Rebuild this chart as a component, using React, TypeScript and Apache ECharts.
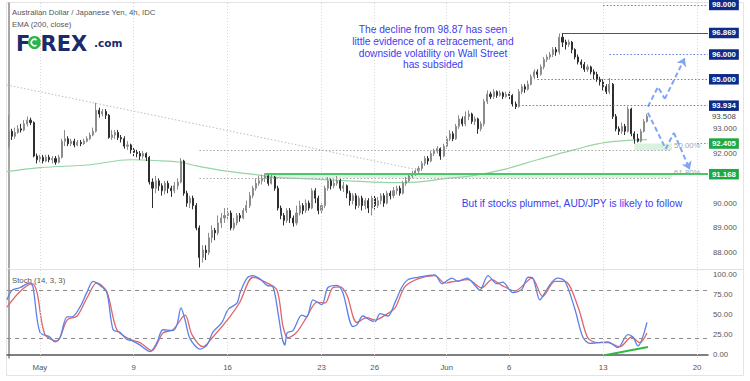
import React, { useEffect, useRef } from 'react';
import * as echarts from 'echarts';

// ---------- DATA ----------
const TOTAL_SLOTS = 224;
const xTickLabels: [number, string][] = [
  [10, 'May'], [40, '9'], [70, '16'], [100, '23'], [117, '26'],
  [140, 'Jun'], [160, '6'], [190, '13'], [220, '20'],
];
const priceTickLabels = [88, 89, 90, 92, 93];
const stochTickLabels = [0, 25, 50, 75, 100];

// 4h candles: [open, close, low, high]
const candlesApr: number[][] = [
  [92.3, 92.9, 92.2, 93.55], [92.9, 92.7, 92.55, 93.0], [92.7, 92.85, 92.6, 93.05], [92.85, 93.0, 92.8, 93.15],
  [93.0, 92.95, 92.85, 93.2], [92.95, 93.2, 92.9, 93.35], [93.2, 93.35, 93.1, 93.5], [93.35, 93.25, 93.15, 93.45],
  [93.25, 91.9, 91.85, 93.3], [91.9, 91.75, 91.6, 92.0],
];
const candlesWk1: number[][] = [
  [91.75, 91.85, 91.65, 91.95], [91.85, 91.7, 91.6, 91.95], [91.7, 91.85, 91.65, 91.95], [91.85, 91.75, 91.65, 91.95],
  [91.75, 91.8, 91.6, 91.9], [91.8, 91.65, 91.55, 91.9], [91.65, 91.85, 91.6, 91.95], [91.85, 92.5, 91.8, 92.6],
  [92.5, 92.6, 92.3, 92.95], [92.6, 92.4, 92.3, 92.7], [92.4, 92.5, 92.3, 92.6], [92.5, 92.35, 92.25, 92.6],
  [92.35, 92.45, 92.3, 92.55], [92.45, 92.4, 92.3, 92.55], [92.4, 92.5, 92.35, 92.6], [92.5, 92.6, 92.45, 92.7],
  [92.6, 92.75, 92.55, 92.85], [92.75, 92.9, 92.7, 93.05], [92.9, 93.75, 92.85, 94.05], [93.75, 93.6, 93.45, 93.85],
  [93.6, 93.7, 93.5, 93.8], [93.7, 93.55, 93.4, 93.8], [93.55, 92.65, 92.6, 93.6], [92.65, 92.75, 92.55, 92.95],
  [92.75, 92.85, 92.6, 92.95], [92.85, 92.65, 92.55, 92.95], [92.65, 92.6, 92.45, 92.75], [92.6, 92.3, 92.2, 92.7],
  [92.3, 92.35, 92.15, 92.5], [92.35, 92.15, 92.0, 92.4],
];
const candlesWk2: number[][] = [
  [92.15, 92.05, 91.9, 92.25], [92.05, 92.0, 91.85, 92.15], [92.0, 91.9, 91.75, 92.1], [91.9, 92.0, 91.8, 92.1],
  [92.0, 91.85, 91.7, 92.05], [91.85, 90.85, 90.75, 91.9], [90.85, 90.6, 89.8, 91.0], [90.6, 90.9, 90.4, 91.1],
  [90.9, 90.7, 90.5, 91.0], [90.7, 90.5, 90.3, 90.8], [90.5, 90.8, 90.35, 90.9], [90.8, 90.6, 90.4, 90.9],
  [90.6, 90.5, 90.25, 90.7], [90.5, 90.7, 90.4, 90.85], [90.7, 90.85, 90.55, 91.0], [90.85, 91.7, 90.8, 91.82],
  [91.7, 90.4, 90.3, 91.75], [90.4, 90.0, 89.85, 90.5], [90.0, 90.2, 89.8, 90.3], [90.2, 89.9, 89.75, 90.3],
  [89.9, 89.0, 88.9, 90.0], [89.0, 87.8, 87.4, 89.1], [87.8, 88.1, 87.6, 88.3], [88.1, 88.0, 87.7, 88.3],
  [88.0, 88.6, 87.9, 88.8], [88.6, 88.9, 88.4, 89.1], [88.9, 88.8, 88.5, 89.0], [88.8, 89.2, 88.7, 89.5],
  [89.2, 89.4, 89.0, 89.6], [89.4, 89.5, 89.2, 89.8],
];
const candlesWk3: number[][] = [
  [89.5, 89.6, 89.3, 89.8], [89.6, 89.0, 88.9, 89.7], [89.0, 89.2, 88.9, 89.4], [89.2, 89.5, 89.1, 89.6],
  [89.5, 89.4, 89.25, 89.6], [89.4, 89.7, 89.35, 89.8], [89.7, 89.9, 89.6, 90.1], [89.9, 90.3, 89.8, 90.45],
  [90.3, 90.6, 90.2, 90.7], [90.6, 90.8, 90.5, 91.0], [90.8, 90.9, 90.7, 91.1], [90.9, 91.0, 90.75, 91.15],
  [91.0, 91.1, 90.85, 91.2], [91.1, 90.8, 90.7, 91.15], [90.8, 91.05, 90.75, 91.2], [91.05, 90.6, 90.5, 91.1],
  [90.6, 89.8, 89.7, 90.7], [89.8, 89.5, 89.35, 89.9], [89.5, 89.3, 89.1, 89.6], [89.3, 89.7, 89.2, 89.8],
  [89.7, 89.4, 89.2, 89.8], [89.4, 89.2, 89.05, 89.5], [89.2, 89.6, 89.1, 89.9], [89.6, 89.9, 89.5, 90.1],
  [89.9, 89.7, 89.55, 90.0], [89.7, 90.0, 89.6, 90.15], [90.0, 89.8, 89.7, 90.1], [89.8, 90.5, 89.75, 90.6],
  [90.5, 90.2, 90.0, 90.6], [90.2, 89.7, 89.55, 90.3],
];
const candlesWk4: number[][] = [
  [89.7, 89.9, 89.6, 90.0], [89.9, 90.6, 89.8, 90.7], [90.6, 90.9, 90.5, 91.05], [90.9, 90.7, 90.55, 91.0],
  [90.7, 90.8, 90.6, 90.95], [90.8, 90.9, 90.7, 91.1], [90.9, 90.6, 90.5, 91.0], [90.6, 90.7, 90.45, 90.85],
  [90.7, 90.4, 90.2, 90.75], [90.4, 90.1, 89.9, 90.5], [90.1, 90.3, 89.95, 90.4], [90.3, 89.9, 89.75, 90.4],
  [89.9, 90.2, 89.8, 90.3], [90.2, 89.9, 89.7, 90.3], [89.9, 90.1, 89.75, 90.2], [90.1, 89.8, 89.6, 90.2],
  [89.8, 90.2, 89.5, 90.3], [90.2, 89.9, 89.75, 90.3], [89.9, 90.1, 89.8, 90.25], [90.1, 90.3, 89.95, 90.4],
  [90.3, 90.0, 89.85, 90.4], [90.0, 90.4, 89.95, 90.5], [90.4, 90.3, 90.15, 90.5], [90.3, 90.5, 90.2, 90.65],
  [90.5, 90.6, 90.35, 90.7], [90.6, 90.4, 90.3, 90.7], [90.4, 90.8, 90.35, 90.9], [90.8, 90.9, 90.7, 91.05],
  [90.9, 91.1, 90.85, 91.2], [91.1, 91.2, 91.0, 91.3],
];
const candlesWk5: number[][] = [
  [91.2, 91.3, 91.1, 91.4], [91.3, 91.4, 91.2, 91.5], [91.4, 91.6, 91.3, 91.7], [91.6, 91.8, 91.5, 91.9],
  [91.8, 91.7, 91.55, 91.9], [91.7, 92.0, 91.65, 92.1], [92.0, 92.1, 91.9, 92.2], [92.1, 92.2, 92.0, 92.3],
  [92.2, 91.9, 91.75, 92.25], [91.9, 92.3, 91.85, 92.4], [92.3, 92.6, 92.2, 92.7], [92.6, 92.8, 92.5, 92.95],
  [92.8, 92.6, 92.5, 92.9], [92.6, 93.1, 92.55, 93.2], [93.1, 93.4, 93.0, 93.55], [93.4, 93.2, 93.1, 93.5],
  [93.2, 93.5, 93.1, 93.7], [93.5, 93.6, 93.35, 93.75], [93.6, 93.3, 93.2, 93.65], [93.3, 93.4, 93.15, 93.5],
  [93.4, 93.0, 92.8, 93.45], [93.0, 93.2, 92.9, 93.3], [93.2, 94.1, 93.1, 94.2], [94.1, 94.4, 94.0, 94.55],
  [94.4, 94.3, 94.2, 94.5], [94.3, 94.5, 94.2, 94.6], [94.5, 94.35, 94.25, 94.55], [94.35, 94.45, 94.3, 94.55],
  [94.45, 94.3, 94.2, 94.5], [94.3, 94.4, 94.25, 94.5],
];
const candlesWk6: number[][] = [
  [94.4, 94.35, 94.2, 94.5], [94.35, 94.0, 93.9, 94.4], [94.0, 93.9, 93.8, 94.1], [93.9, 94.5, 93.85, 94.6],
  [94.5, 94.7, 94.4, 94.8], [94.7, 94.6, 94.45, 94.8], [94.6, 94.8, 94.55, 94.95], [94.8, 95.1, 94.75, 95.2],
  [95.1, 95.3, 95.0, 95.4], [95.3, 95.2, 95.05, 95.4], [95.2, 95.5, 95.15, 95.6], [95.5, 95.8, 95.4, 95.9],
  [95.8, 95.9, 95.7, 96.0], [95.9, 96.0, 95.8, 96.1], [96.0, 96.2, 95.9, 96.3], [96.2, 96.1, 95.95, 96.3],
  [96.1, 96.7, 96.0, 96.85], [96.7, 96.5, 96.3, 96.87], [96.5, 96.4, 96.2, 96.6], [96.4, 96.5, 96.3, 96.6],
  [96.5, 96.2, 96.05, 96.55], [96.2, 95.9, 95.8, 96.25], [95.9, 95.7, 95.6, 96.0], [95.7, 95.6, 95.45, 95.8],
  [95.6, 95.4, 95.3, 95.7], [95.4, 95.5, 95.3, 95.6], [95.5, 95.3, 95.2, 95.55], [95.3, 95.2, 95.0, 95.4],
  [95.2, 95.0, 94.9, 95.3], [95.0, 94.9, 94.75, 95.1],
];
const candlesWk7: number[][] = [
  [94.9, 94.7, 94.55, 95.0], [94.7, 94.5, 94.4, 94.8], [94.5, 94.8, 94.4, 95.05], [94.8, 93.5, 93.4, 94.85],
  [93.5, 93.0, 92.9, 93.6], [93.0, 92.9, 92.75, 93.1], [92.9, 93.1, 92.8, 93.25], [93.1, 92.9, 92.75, 93.2],
  [92.9, 93.8, 92.85, 93.9], [93.8, 92.8, 92.7, 93.85], [92.8, 92.6, 92.4, 92.9], [92.6, 92.5, 92.45, 92.8],
  [92.5, 92.9, 92.45, 93.0], [92.9, 93.3, 92.85, 93.4], [93.3, 93.508, 93.25, 93.6],
];

// EMA(200) read at key bars: [bar index, value]
const emaPoints: number[][] = [
  [-0.5, 91.27], [10, 91.43], [26, 91.55], [39, 91.75], [47, 91.72], [55, 91.65], [60, 91.5], [69, 91.3],
  [79, 91.15], [85, 91.04], [96, 90.98], [109, 90.9], [124, 90.83], [129, 90.84], [139, 90.98], [149, 91.12],
  [158, 91.35], [169, 91.75], [180, 92.13], [191, 92.45], [204, 92.56],
];

// Stochastic (14,3,3): [bar index, value]
const stochK: number[][] = [
  [-0.5, 68], [1.1, 80], [3.6, 83], [6.8, 89], [7.8, 84], [10, 28], [13.2, 22], [14.8, 16], [16.4, 21], [18.7, 47],
  [20.3, 47], [22.8, 59], [25, 77], [27, 91], [29.2, 86], [31.4, 77], [33.4, 31], [35.6, 28], [37.8, 19], [39.7, 17],
  [42, 12], [45.2, 4], [47.4, 15], [49.3, 31], [52.5, 30], [53.8, 37], [55.1, 58], [56.4, 43], [58, 20], [61.2, 7],
  [63.4, 12], [65.3, 28], [68.2, 40], [70.1, 56], [73, 64], [74, 77], [76.2, 95], [78.1, 98], [80.3, 94], [82.6, 86],
  [84.5, 84], [86.1, 52], [87.4, 21], [88.3, 12], [89, 27], [90.9, 30], [93.7, 49], [95.3, 47], [97.3, 68], [100.1, 62],
  [102, 83], [104.9, 86], [106.8, 77], [110, 35], [111.3, 37], [113.2, 48], [115.5, 43], [117.1, 41], [118.7, 51], [121.2, 48],
  [123.4, 64], [125.7, 84], [127.6, 93], [130.8, 96], [134, 98], [136.2, 99], [138.5, 88], [141.7, 95], [143.6, 91], [146.5, 95],
  [149, 86], [150.6, 80], [153.2, 98], [156, 88], [157.9, 90], [161.2, 77], [164, 81], [166, 96], [167.5, 95], [169.8, 68],
  [171.4, 77], [173.6, 90], [175.5, 95], [177.8, 91], [181, 56], [183.5, 22], [185.8, 14], [188.3, 15], [191.5, 16], [194.7, 9],
  [197.9, 25], [199.5, 22], [201.1, 11], [204, 40],
];
const stochD: number[][] = [
  [-0.5, 59], [3.6, 78], [7.5, 88], [9.1, 77], [11.6, 25], [15.5, 17], [18.7, 43], [21.9, 48], [25, 70], [28.2, 89],
  [31.4, 78], [34.6, 31], [38.8, 19], [42, 15], [45.8, 5], [49.3, 27], [52.5, 31], [56.4, 49], [58.6, 25], [62.1, 10],
  [65.3, 22], [70.7, 47], [73.9, 65], [78.1, 96], [82.6, 89], [85.8, 80], [87.7, 35], [89.3, 21], [92.1, 28], [95.3, 47],
  [98.5, 65], [101.1, 64], [103.6, 83], [105.9, 84], [108.1, 74], [111.3, 40], [114.5, 46], [117.1, 43], [120.3, 49], [123.5, 58],
  [126.6, 84], [130.8, 94], [136.2, 98], [139.4, 89], [142.6, 91], [146.8, 93], [151.2, 83], [154.4, 93], [157.6, 86], [161.8, 79],
  [167.2, 95], [170.7, 72], [174.6, 91], [177.8, 91], [182, 59], [185.1, 21], [188.3, 15], [191.5, 15], [195.3, 10], [199.1, 22],
  [201.7, 15], [204, 27],
];

// Annotations: [bar index, price]
const upPath: number[][] = [[204.3, 93.89], [207.5, 94.69], [209.7, 94.21], [216.1, 95.86]];
const downPath: number[][] = [[204.3, 93.65], [210, 92.19], [212.6, 92.84], [217.7, 91.35]];
const stochDivergence: number[][] = [[190.5, -0.5], [204.3, 9.5]];
const trendLine: number[][] = [[-0.5, 94.77], [132, 91.31]];
const fibLow = 87.4;
const fibHigh = 96.869;
const fibLevels: [number, string][] = [[0.5, '50.00%'], [0.618, '61.80%']];
const blueLevels: [number, number, string][] = [
  // price, start bar, line kind
  [98.0, 190, 'dotted'], [96.869, 177, 'solid'], [96.0, 192, 'dotted'], [95.0, 169, 'dotted'], [93.934, 163, 'dotted'],
];
const greenLevels: [number, number][] = [[92.405, 220], [91.168, 82]];
const lastPrice = 93.508;

// ---------- COMPONENT ----------
export default function App() {
  const ref = useRef<HTMLDivElement>(null);
  useEffect(() => {
    if (!ref.current) return;
    const chart = echarts.init(ref.current, null, { renderer: 'svg' });
    const ohlc = [...candlesApr, ...candlesWk1, ...candlesWk2, ...candlesWk3, ...candlesWk4, ...candlesWk5, ...candlesWk6, ...candlesWk7];
    const cats: string[] = [];
    for (let i = 0; i < TOTAL_SLOTS; i++) cats.push('');
    xTickLabels.forEach(([i, t]) => { cats[i] = t; });
    const fib = fibLevels.map(([r, t]) => [fibHigh - r * (fibHigh - fibLow), t] as [number, string]);
    const END = TOTAL_SLOTS - 0.5;
    const small = 7.8;
    const gridV = (color: string) => xTickLabels.map(([i]) => ({ xAxis: i, lineStyle: { type: [1, 2], color, width: 1 }, label: { show: false } }));
    const box = (txt: string, bg: string) => ({
      show: true, position: 'end', distance: 1, formatter: txt, backgroundColor: bg, color: '#fff',
      fontWeight: 'bold', fontSize: small, padding: [1.5, 3, 1, 3],
    });
    const blueMarks = blueLevels.map(([p, s, kind]) => [
      {
        coord: [s, p],
        lineStyle: kind === 'solid' ? { type: 'solid', color: '#3553b0', width: 1 } : { type: [1.5, 2], color: '#5d7fdc', width: 1.2 },
        label: box(p.toFixed(3), '#0f2b88'),
      },
      { coord: [END, p] },
    ]);
    const greenMarks = greenLevels.map(([p, s]) => [
      {
        coord: [s, p],
        lineStyle: p > 92 ? { type: [1.5, 2], color: '#3dbb5c', width: 1 } : { type: 'solid', color: '#4cc66a', width: 2 },
        label: box(p.toFixed(3), '#1fa843'),
      },
      { coord: [END, p] },
    ]);
    const fibMarks = fib.map(([p]) => [
      { coord: [61, p], lineStyle: { type: [1.5, 2], color: '#a9a9a9', width: 1 }, label: { show: false } },
      { coord: [212, p] },
    ]);
    const arrowColor = '#7ea6f4';
    const arrowLine = { color: arrowColor, width: 2, type: [5, 3] };

    chart.setOption({
      animation: false,
      textStyle: { fontFamily: 'Liberation Sans, Arial, sans-serif' },
      grid: [
        { left: 7, top: 3, width: 701, height: 265 },
        { left: 7, top: 270, width: 701, height: 88 },
      ],
      xAxis: [
        { type: 'category', gridIndex: 0, data: cats, axisLine: { show: false }, axisTick: { show: false }, axisLabel: { show: false }, splitLine: { show: false } },
        {
          type: 'category', gridIndex: 1, data: cats,
          axisLine: { show: true, lineStyle: { color: '#555', width: 1.5 } }, axisTick: { show: false },
          axisLabel: { interval: 0, color: '#555', fontSize: small, margin: 5 }, splitLine: { show: false },
        },
        { type: 'value', gridIndex: 0, min: -0.5, max: END, show: false },
        { type: 'value', gridIndex: 1, min: -0.5, max: END, show: false },
      ],
      yAxis: [
        {
          type: 'value', gridIndex: 0, position: 'right', min: 87.38, max: 98.08, scale: true,
          splitLine: { show: false }, axisTick: { show: false },
          axisLine: { show: true, lineStyle: { color: '#8a8a8a', width: 1.5 } },
          axisLabel: { customValues: priceTickLabels, formatter: (v: number) => v.toFixed(3), color: '#555', fontSize: small, margin: 5 },
        },
        {
          type: 'value', gridIndex: 1, position: 'right', min: -4, max: 105,
          splitLine: { show: false }, axisTick: { show: false },
          axisLine: { show: true, lineStyle: { color: '#8a8a8a', width: 1.5 } },
          axisLabel: { customValues: stochTickLabels, formatter: (v: number) => v.toFixed(2), color: '#555', fontSize: small, margin: 5 },
        },
      ],
      series: [
        {
          type: 'candlestick', xAxisIndex: 0, yAxisIndex: 0, data: ohlc, barMaxWidth: 2, silent: true,
          itemStyle: { color: '#8c8c8c', color0: '#2e2e2e', borderColor: '#8c8c8c', borderColor0: '#2e2e2e', borderWidth: 1 },
        },
        {
          type: 'line', xAxisIndex: 2, yAxisIndex: 0, data: emaPoints, smooth: 0.4, symbol: 'none', silent: true,
          lineStyle: { color: '#95d4a4', width: 1.2 }, z: 1,
          markArea: {
            silent: true,
            data: [
              [{ coord: [82, greenLevels[1][0]], itemStyle: { color: 'rgba(76,198,106,0.2)' } }, { coord: [212, fib[1][0]] }],
              [{ coord: [200, greenLevels[0][0]], itemStyle: { color: 'rgba(76,198,106,0.22)' } }, { coord: [212, fib[0][0]] }],
            ],
          },
          markLine: {
            silent: true, symbol: 'none', animation: false, label: { show: false },
            data: [
              ...gridV('#d8d8d8'),
              [{ coord: trendLine[0], lineStyle: { type: [1.5, 2], color: '#bdbdbd', width: 1 }, label: { show: false } }, { coord: trendLine[1] }],
              ...fibMarks,
              ...blueMarks,
              ...greenMarks,
              [{ coord: [222, lastPrice], lineStyle: { color: 'rgba(0,0,0,0)', width: 0 }, label: { show: true, position: 'end', distance: 1, formatter: lastPrice.toFixed(3), color: '#444', fontSize: small, padding: [1, 3, 1, 3] } }, { coord: [END, lastPrice] }],
            ],
          },
        },
        {
          type: 'scatter', xAxisIndex: 2, yAxisIndex: 0, symbolSize: 0.1, silent: true,
          itemStyle: { color: 'transparent' },
          data: fib.map(([p, t]) => [212, p, t]),
          label: { show: true, position: 'right', distance: 2, offset: [0, -5], formatter: (pp: any) => pp.data[2], color: '#8a8a8a', fontSize: small },
        },
        {
          type: 'line', xAxisIndex: 2, yAxisIndex: 0, data: upPath.slice(0, 3), symbol: 'none', silent: true, lineStyle: arrowLine,
          markLine: { silent: true, symbol: ['none', 'arrow'], symbolSize: 8, label: { show: false }, lineStyle: arrowLine, data: [[{ coord: upPath[2] }, { coord: upPath[3] }]] },
        },
        {
          type: 'line', xAxisIndex: 2, yAxisIndex: 0, data: downPath.slice(0, 3), symbol: 'none', silent: true, lineStyle: arrowLine,
          markLine: { silent: true, symbol: ['none', 'arrow'], symbolSize: 8, label: { show: false }, lineStyle: arrowLine, data: [[{ coord: downPath[2] }, { coord: downPath[3] }]] },
        },
        {
          type: 'line', xAxisIndex: 3, yAxisIndex: 1, data: stochD, smooth: 0.3, symbol: 'none', silent: true,
          lineStyle: { color: '#e0646c', width: 1.3 },
          markLine: {
            silent: true, symbol: 'none', label: { show: false },
            data: [
              ...gridV('#dedede'),
              { yAxis: 80, lineStyle: { type: [4, 4], color: '#8a8a8a', width: 1 } },
              { yAxis: 20, lineStyle: { type: [4, 4], color: '#8a8a8a', width: 1 } },
            ],
          },
        },
        {
          type: 'line', xAxisIndex: 3, yAxisIndex: 1, data: stochK, smooth: 0.3, symbol: 'none', silent: true,
          lineStyle: { color: '#5b80ea', width: 1.3 },
        },
        {
          type: 'line', xAxisIndex: 3, yAxisIndex: 1, data: stochDivergence, symbol: 'none', silent: true,
          lineStyle: { color: '#2fb843', width: 2 },
        },
      ],
      graphic: [
        { type: 'rect', shape: { x: 6.5, y: 2.5, width: 737, height: 373 }, style: { fill: 'none', stroke: '#e4e4e4', lineWidth: 1 }, silent: true, z: -10 },
        { type: 'line', shape: { x1: 7, y1: 269.5, x2: 743, y2: 269.5 }, style: { stroke: '#e0e0e0', lineWidth: 1 }, silent: true },
        { type: 'text', left: 12, top: 8, style: { text: 'Australian Dollar / Japanese Yen, 4h, IDC', fill: '#555', fontSize: small, fontFamily: 'Liberation Sans, Arial, sans-serif' } },
        { type: 'text', left: 12, top: 20, style: { text: 'EMA (200, close)', fill: '#555', fontSize: small, fontFamily: 'Liberation Sans, Arial, sans-serif' } },
        { type: 'text', left: 12, top: 276, style: { text: 'Stoch (14, 3, 3)', fill: '#555', fontSize: small, fontFamily: 'Liberation Sans, Arial, sans-serif' } },
        { type: 'text', left: 16, top: 33, style: { text: 'F', fill: '#1b2a6b', fontSize: 21, fontWeight: 'bold', fontFamily: 'DejaVu Sans, sans-serif' } },
        { type: 'circle', shape: { cx: 34.5, cy: 42.5, r: 6.5 }, style: { fill: '#2db34b' } },
        { type: 'arc', shape: { cx: 34.5, cy: 42.5, r: 3.2, startAngle: 0.9, endAngle: 5.4 }, style: { stroke: '#fff', lineWidth: 1.6, fill: 'none' } },
        { type: 'text', left: 40.5, top: 33, style: { text: 'REX', fill: '#1b2a6b', fontSize: 21, fontWeight: 'bold', fontFamily: 'DejaVu Sans, sans-serif' } },
        { type: 'text', left: 94, top: 37, style: { text: '.com', fill: '#1b2a6b', fontSize: 10.5, fontWeight: 'bold', fontFamily: 'DejaVu Sans, sans-serif' } },
        {
          type: 'text', x: 433, y: 24,
          style: {
            text: 'The decline from 98.87 has seen\nlittle evidence of a retracement, and\ndownside volatility on Wall Street\nhas subsided',
            fill: '#3b3bef', fontSize: 10.2, lineHeight: 11.7, align: 'center', verticalAlign: 'top', fontFamily: 'Liberation Sans, Arial, sans-serif',
          },
        },
        {
          type: 'text', x: 572, y: 203,
          style: { text: 'But if stocks plummet, AUD/JPY is likely to follow', fill: '#3b3bef', fontSize: 10.2, align: 'center', verticalAlign: 'middle', fontFamily: 'Liberation Sans, Arial, sans-serif' },
        },
      ],
    });
    return () => chart.dispose();
  }, []);
  return <div ref={ref} style={{ position: 'fixed', left: 0, top: 0, width: 750, height: 381, background: '#fff' }} />;
}
